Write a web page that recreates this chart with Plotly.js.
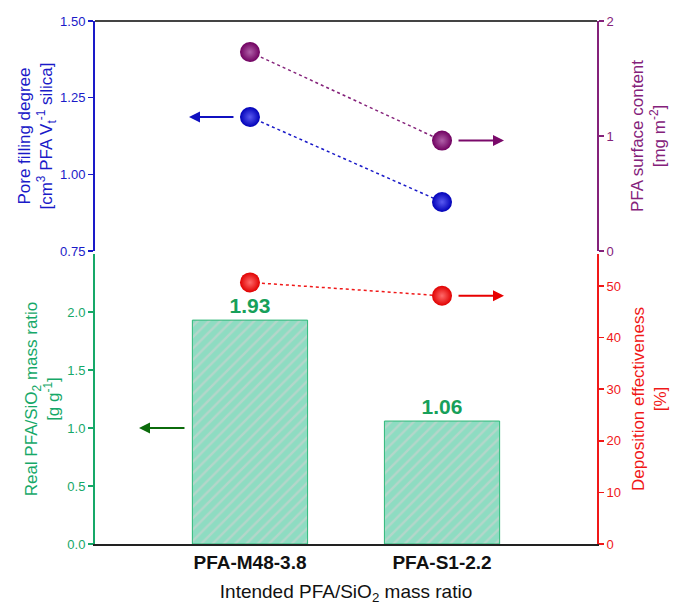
<!DOCTYPE html>
<html>
<head>
<meta charset="utf-8">
<script src="https://cdn.plot.ly/plotly-3.0.1.min.js"></script>
<style>html,body{margin:0;padding:0;background:#fff;}#chart{width:675px;height:605px;}</style>
</head>
<body>
<div id="chart"></div>
<script>
// ---- data ----
const categories = ["PFA-M48-3.8", "PFA-S1-2.2"];
const realMassRatio = [1.93, 1.06];          // g g-1 (bars, bottom left axis)
const depositionEff = [50.7, 48.1];          // % (bottom right axis)
const poreFilling = [1.187, 0.91];           // cm3 PFA Vt-1 silica (top left axis)
const surfaceContent = [1.73, 0.96];         // mg m-2 (top right axis)
const leftBottomTicks = [0, 0.5, 1.0, 1.5, 2.0];
const rightBottomTicks = [0, 10, 20, 30, 40, 50];
const leftTopTicks = [0.75, 1.00, 1.25, 1.50];
const rightTopTicks = [0, 1, 2];

const FONT = "Liberation Sans, Arial, sans-serif";
const BLUE = "#1a1ac8", PURPLE = "#84217a", GREEN = "#16a868", RED = "#f01818", DGREEN = "#0b6b0b";

const traces = [
  {
    type: "bar", x: categories, y: realMassRatio, xaxis: "x", yaxis: "y",
    width: 0.6,
    marker: {
      color: "#8edcc2",
      line: {color: "#2fb878", width: 1},
      pattern: {shape: "/", fgcolor: "#b4d6ca", bgcolor: "#8edcc2", size: 8, solidity: 0.3}
    },
    text: realMassRatio.map(v => v.toFixed(2)),
    textposition: "outside",
    textfont: {family: FONT, size: 21, color: "#17a05a", weight: "bold"},
    cliponaxis: false, showlegend: false, hoverinfo: "skip"
  },
  {
    type: "scatter", mode: "lines+markers", x: categories, y: depositionEff, xaxis: "x", yaxis: "y2",
    line: {color: RED, width: 1.5, dash: "dot"},
    marker: {size: 20, color: "#e00000", gradient: {type: "radial", color: "#ff6a6a"}, line: {width: 0}},
    cliponaxis: false, showlegend: false
  },
  {
    type: "scatter", mode: "lines+markers", x: categories, y: poreFilling, xaxis: "x", yaxis: "y3",
    line: {color: BLUE, width: 1.5, dash: "dot"},
    marker: {size: 20, color: "#0000b8", gradient: {type: "radial", color: "#5a5af0"}, line: {width: 0}},
    cliponaxis: false, showlegend: false
  },
  {
    type: "scatter", mode: "lines+markers", x: categories, y: surfaceContent, xaxis: "x", yaxis: "y4",
    line: {color: PURPLE, width: 1.5, dash: "dot"},
    marker: {size: 20, color: "#700060", gradient: {type: "radial", color: "#b060a8"}, line: {width: 0}},
    cliponaxis: false, showlegend: false
  }
];

function yax(color, extra) {
  return Object.assign({
    showgrid: false, zeroline: false, showline: true, linecolor: color, linewidth: 2,
    ticks: "outside", ticklen: 5, tickwidth: 1.5, tickcolor: color,
    tickfont: {family: FONT, size: 13, color: color}
  }, extra);
}

const arrowBase = {text: "", showarrow: true, arrowhead: 2, arrowsize: 1.1, arrowwidth: 2, axref: "pixel", ayref: "pixel", ay: 0};

const layout = {
  width: 675, height: 605,
  margin: {l: 95, r: 78, t: 21, b: 61},
  paper_bgcolor: "#fff", plot_bgcolor: "rgba(0,0,0,0)",
  font: {family: FONT},
  xaxis: {
    type: "category", range: [-0.807, 1.807], anchor: "y",
    showgrid: false, zeroline: false, showline: true, linecolor: "#222", linewidth: 2,
    ticks: "", tickfont: {family: FONT, size: 19, color: "#111", weight: "bold"},
    title: {text: "Intended PFA/SiO<sub>2</sub> mass ratio", font: {family: FONT, size: 19, color: "#111"}, standoff: 15}
  },
  yaxis: yax(GREEN, {
    domain: [0, 0.5545], range: [0, 2.5], anchor: "x", tickvals: leftBottomTicks, tickformat: ".1f",
    title: {text: "Real PFA/SiO<sub>2</sub> mass ratio<br>[g g<sup>-1</sup>]", font: {family: FONT, size: 17, color: GREEN}, standoff: 3}
  }),
  yaxis2: yax(RED, {
    overlaying: "y", side: "right", anchor: "x", range: [0, 56.2], tickvals: rightBottomTicks,
    title: {text: "Deposition effectiveness<br>[%]", font: {family: FONT, size: 17, color: RED}, standoff: 12}
  }),
  yaxis3: yax(BLUE, {
    domain: [0.5602, 1], range: [0.75, 1.5], anchor: "x", tickvals: leftTopTicks, tickformat: ".2f",
    title: {text: "Pore filling degree<br>[cm<sup>3</sup> PFA V<sub>t</sub><sup>-1</sup> silica]", font: {family: FONT, size: 17, color: BLUE}, standoff: 3}
  }),
  yaxis4: yax(PURPLE, {
    overlaying: "y3", side: "right", anchor: "x", range: [0, 2], tickvals: rightTopTicks,
    title: {text: "PFA surface content<br>[mg m<sup>-2</sup>]", font: {family: FONT, size: 17, color: PURPLE}, standoff: 18}
  }),
  shapes: [
    {type: "line", xref: "paper", yref: "paper", x0: 0, x1: 1, y0: 1, y1: 1, line: {color: "#444", width: 2}}
  ],
  annotations: [
    Object.assign({}, arrowBase, {x: categories[0], y: poreFilling[0], xref: "x", yref: "y3", xshift: -61, ax: 46, arrowcolor: "#1010c0"}),
    Object.assign({}, arrowBase, {x: categories[1], y: surfaceContent[1], xref: "x", yref: "y4", xshift: 62, ax: -47, arrowcolor: "#7a0a6a"}),
    Object.assign({}, arrowBase, {x: categories[1], y: depositionEff[1], xref: "x", yref: "y2", xshift: 62, ax: -47, arrowcolor: "#e80000"}),
    Object.assign({}, arrowBase, {x: categories[0], y: 1.0, xref: "x", yref: "y", xshift: -111, ax: 47, arrowcolor: DGREEN})
  ]
};

Plotly.newPlot("chart", traces, layout, {displayModeBar: false, staticPlot: true});
</script>
</body>
</html>
